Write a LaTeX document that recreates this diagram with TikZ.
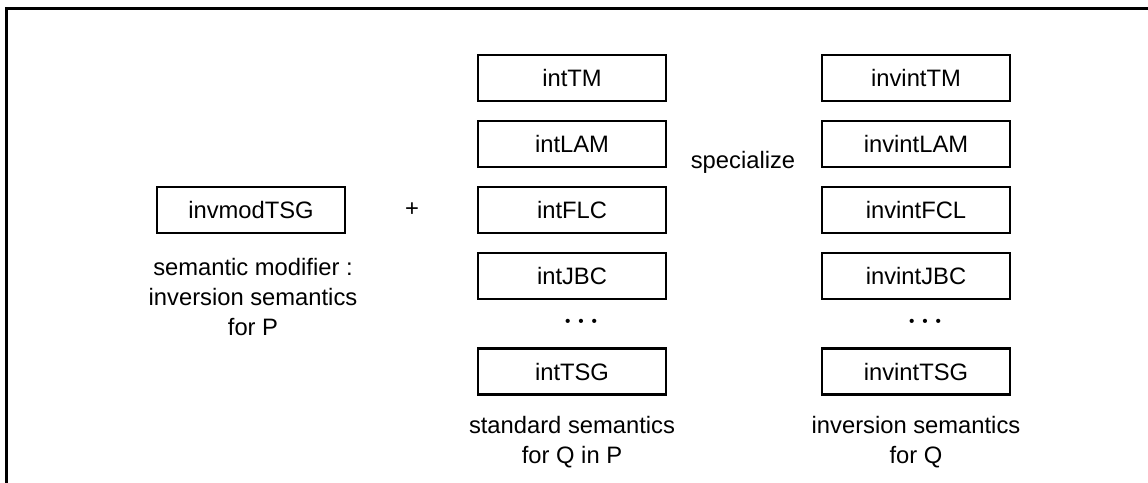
\documentclass[tikz,border=0pt]{standalone}
\usepackage{fontspec}
\setmainfont{Liberation Sans}
\usetikzlibrary{positioning}

\begin{document}
\begin{tikzpicture}[
    sem/.style={draw, line width=1.6pt, minimum width=4.7cm, minimum height=1.15cm, inner sep=0pt, font=\fontsize{16.9}{21.3}\selectfont},
    note/.style={align=center, inner sep=0pt, font=\fontsize{16.9}{21.3}\selectfont},
    more/.style={inner sep=0pt, font=\fontsize{11}{12}\selectfont}
  ]
  \useasboundingbox (0,0) rectangle (28.7,-12.075);
  \coordinate (fbot) at (0.1625,-12.4);
  \coordinate (fcorner) at (0.1625,-0.2125);
  \coordinate (fright) at (29.1,-0.2125);
  \draw[line width=2.1pt] (fbot) -- (fcorner) -- (fright);

  \node[sem] (invmod) at (6.275,-5.25) {invmodTSG};
  \node[note] (modnote) at (6.325,-7.425) {semantic modifier :\\inversion semantics\\for P};
  \node[note] (plus) at (10.3,-5.25) {+};

  \node[sem] (inttm) at (14.3,-1.95) {intTM};
  \node[sem] (intlam) at (14.3,-3.6) {intLAM};
  \node[sem] (intflc) at (14.3,-5.25) {intFLC};
  \node[sem] (intjbc) at (14.3,-6.9) {intJBC};
  \node[more] (intdots) at (14.525,-8.075) {\textbullet\hspace{5.6pt}\textbullet\hspace{5.6pt}\textbullet};
  \node[sem] (inttsg) at (14.3,-9.29) {intTSG};
  \node[note] (stdnote) at (14.3,-11.06) {standard semantics\\for Q in P};

  \node[note] (spec) at (18.575,-4.05) {specialize};

  \node[sem] (invtm) at (22.9,-1.95) {invintTM};
  \node[sem] (invlam) at (22.9,-3.6) {invintLAM};
  \node[sem] (invfcl) at (22.9,-5.25) {invintFCL};
  \node[sem] (invjbc) at (22.9,-6.9) {invintJBC};
  \node[more] (invdots) at (23.125,-8.075) {\textbullet\hspace{5.6pt}\textbullet\hspace{5.6pt}\textbullet};
  \node[sem] (invtsg) at (22.9,-9.29) {invintTSG};
  \node[note] (invnote) at (22.9,-11.06) {inversion semantics\\for Q};
\end{tikzpicture}
\end{document}
